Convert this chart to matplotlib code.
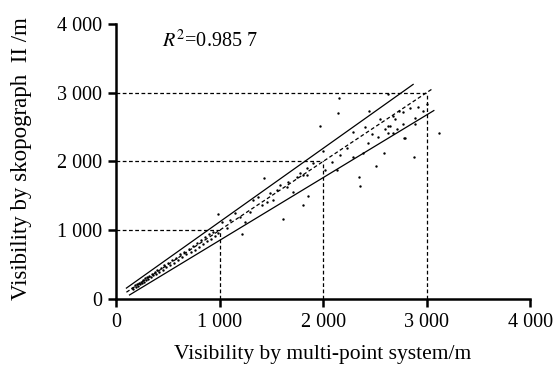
import matplotlib
matplotlib.use("Agg")
import matplotlib.pyplot as plt

# плотная часть вдоль диагонали
x_dense = [150, 165, 180, 190, 200, 210, 220, 230, 240, 250, 260, 270, 280, 290,
           300, 310, 320, 335, 350, 360, 375, 390, 400, 415, 430, 450, 465, 480,
           500, 520, 540, 560, 580, 600, 620, 640, 660, 680, 700, 720, 740, 760,
           780, 800, 820, 840, 860, 880, 900, 920, 940, 960, 980]
y_dense = [160, 150, 200, 175, 215, 195, 240, 215, 255, 230, 280, 250, 300, 275,
           320, 290, 335, 320, 370, 345, 395, 370, 420, 400, 455, 430, 490, 460,
           520, 500, 570, 530, 600, 575, 650, 610, 690, 650, 730, 690, 770, 720,
           820, 760, 860, 800, 900, 840, 950, 880, 980, 910, 960]

# точки в полосе
x_band = [1023, 1071, 1100, 1149, 1197, 1245, 1293, 1322, 1371, 1409, 1458, 1486,
          1515, 1554, 1583, 1651, 1660, 1708, 1747, 1776, 1805, 1844, 1844, 1902,
          1998, 2017, 2085, 2133, 2162, 2230, 2288, 2288, 2384, 2403, 2432, 2471,
          2529, 2548, 2597, 2625, 2625, 2645, 2674, 2674, 2693, 2712, 2732, 2770,
          2770, 2790, 2838, 2886, 2886, 2915, 2963, 3002]
y_band = [1116, 1029, 1145, 1246, 1188, 1116, 1261, 1435, 1478, 1362, 1406, 1536,
          1435, 1580, 1652, 1623, 1696, 1551, 1768, 1826, 1797, 1797, 1899, 1971,
          2159, 1870, 1986, 1870, 2087, 2203, 2058, 2435, 2116, 2507, 2275, 2406,
          2362, 2623, 2478, 2522, 2420, 2522, 2667, 2420, 2623, 2478, 2739, 2725,
          2551, 2348, 2783, 2638, 2551, 2797, 2739, 2841]

# выбросы
x_out = [985, 1216, 1429, 1612, 1805, 1853, 1969, 2143, 2152, 2346, 2355, 2442,
         2510, 2587, 2625, 2780, 2876, 3118]
y_out = [1232, 950, 1754, 1159, 1362, 1493, 2515, 2700, 2928, 1768, 1645, 2739,
         1928, 2130, 2986, 2348, 2072, 2420]

# линии регрессии и границы
x_mid = [100, 3050]
y_mid = [100, 3050]
x_up = [100, 2870]
y_up = [160, 3120]
x_low = [130, 3070]
y_low = [60, 2740]

ref_levels = [1000, 2000, 3000]
ticks = [0, 1000, 2000, 3000, 4000]
tick_labels = ["0", "1 000", "2 000", "3 000", "4 000"]

plt.rcParams["font.family"] = ["Liberation Serif", "DejaVu Serif"]
plt.rcParams["mathtext.fontset"] = "stix"

fig = plt.figure(figsize=(5.58, 3.67), dpi=100)
ax = fig.add_axes([0.208, 0.185, 0.742, 0.75])

for v in ref_levels:
    ax.plot([0, v], [v, v], color="black", linestyle="--", linewidth=0.9, dashes=(3, 2))
    ax.plot([v, v], [0, v], color="black", linestyle="--", linewidth=0.9, dashes=(3, 2))

ax.plot(x_up, y_up, color="black", linewidth=0.9)
ax.plot(x_low, y_low, color="black", linewidth=0.9)
ax.plot(x_mid, y_mid, color="black", linewidth=0.9, linestyle="--", dashes=(3, 2))

ax.scatter(x_dense, y_dense, s=3, color="black", linewidths=0)
ax.scatter(x_band, y_band, s=3, color="black", linewidths=0)
ax.scatter(x_out, y_out, s=3, color="black", linewidths=0)

ax.set_xlim(0, 4000)
ax.set_ylim(0, 4000)
ax.set_xticks(ticks)
ax.set_xticklabels(tick_labels)
ax.set_yticks(ticks)
ax.set_yticklabels(tick_labels)

ax.spines["top"].set_visible(False)
ax.spines["right"].set_visible(False)
ax.spines["left"].set_linewidth(1.8)
ax.spines["bottom"].set_linewidth(1.8)
ax.tick_params(direction="out", length=6, width=1.8, labelsize=14.5, pad=4)

ax.text(444, 3750, "$R^2$=0.985 7", fontsize=14.5, va="center", ha="left")

ax.set_xlabel("Visibility by multi-point system/m", fontsize=15.5)
ax.xaxis.set_label_coords(0.5, -0.165)
ax.xaxis.label.set_va("top")
ax.set_ylabel("Visibility by skopograph  II /m", fontsize=16.5)
ax.yaxis.set_label_coords(-0.229, 0.51)
ax.yaxis.label.set_va("center")

fig.savefig("out.png", dpi=100)
